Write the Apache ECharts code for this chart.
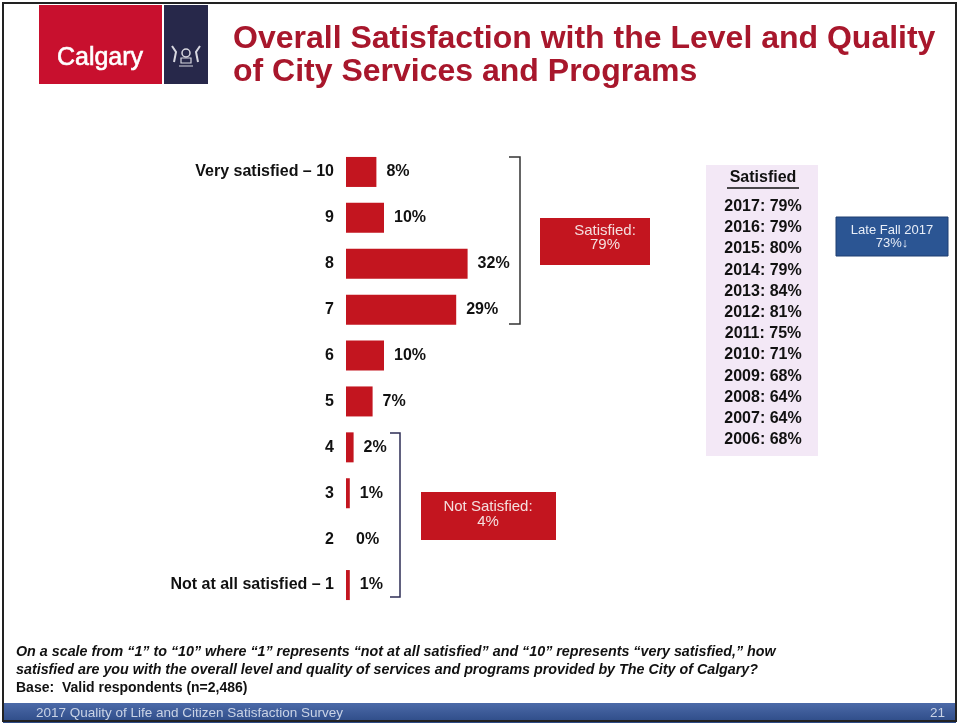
<!DOCTYPE html>
<html>
<head>
<meta charset="utf-8">
<script src="https://cdn.jsdelivr.net/npm/echarts@6/dist/echarts.min.js"></script>
<style>
  html, body { margin: 0; padding: 0; background: #fff; }
  #chart { width: 959px; height: 725px; }
</style>
</head>
<body>
<div id="chart"></div>
<script>
// Rating scale, top (10) to bottom (1)
var categories = ['Very satisfied \u2013 10', '9', '8', '7', '6', '5', '4', '3', '2', 'Not at all satisfied \u2013 1'];
var shares = [8, 10, 32, 29, 10, 7, 2, 1, 0, 1];

// Year-over-year share of satisfied residents
var historyYears = [2017, 2016, 2015, 2014, 2013, 2012, 2011, 2010, 2009, 2008, 2007, 2006];
var historyShares = [79, 79, 80, 79, 84, 81, 75, 71, 68, 64, 64, 68];

var satisfiedTotal = 79;
var notSatisfiedTotal = 4;
var lateFall = 73;

var RED = '#c3151f';
var TITLE_RED = '#a8172c';
var FONT = 'Liberation Sans, Arial, sans-serif';

var chart = echarts.init(document.getElementById('chart'));

var historyText = historyYears.map(function (y, i) {
  return y + ': ' + historyShares[i] + '%';
}).join('\n');

var CREST = '#d8d8e0';

var graphics = [
  // slide frame
  { type: 'rect', shape: { x: 3, y: 3, width: 953, height: 718 }, style: { fill: 'none', stroke: '#222', lineWidth: 2 }, z: 1 },
  // logo
  { type: 'rect', shape: { x: 39, y: 5, width: 123, height: 79 }, style: { fill: '#c8102e' } },
  { type: 'text', style: { x: 100, y: 58, text: 'Calgary', fill: '#fff', font: '25px ' + FONT, align: 'center', verticalAlign: 'middle', stroke: '#fff', lineWidth: 0.6 } },
  { type: 'rect', shape: { x: 164, y: 5, width: 44, height: 79 }, style: { fill: '#27284a' } },
  { type: 'circle', shape: { cx: 186, cy: 53, r: 4 }, style: { fill: 'none', stroke: CREST, lineWidth: 1.5 } },
  { type: 'rect', shape: { x: 181, y: 58, width: 10, height: 5 }, style: { fill: 'none', stroke: CREST, lineWidth: 1.2 } },
  { type: 'polyline', shape: { points: [[174, 62], [176, 52], [172, 46]] }, style: { stroke: CREST, lineWidth: 2, fill: 'none' } },
  { type: 'polyline', shape: { points: [[198, 62], [196, 52], [200, 46]] }, style: { stroke: CREST, lineWidth: 2, fill: 'none' } },
  { type: 'line', shape: { x1: 179, y1: 66, x2: 193, y2: 66 }, style: { stroke: CREST, lineWidth: 1 } },
  // title
  { type: 'text', left: 233, top: 23, style: { text: 'Overall Satisfaction with the Level and Quality\nof City Services and Programs', fill: TITLE_RED, font: 'bold 32px ' + FONT, lineHeight: 33 } },

  // satisfied bracket
  { type: 'polyline', shape: { points: [[509, 157], [520, 157], [520, 324], [509, 324]] }, style: { stroke: '#333', lineWidth: 1.5, fill: 'none' } },
  { type: 'rect', shape: { x: 540, y: 218, width: 110, height: 47 }, style: { fill: RED } },
  { type: 'text', style: { x: 605, y: 238, text: 'Satisfied:\n' + satisfiedTotal + '%', fill: '#f4dede', font: '15px ' + FONT, align: 'center', verticalAlign: 'middle', lineHeight: 14 } },

  // not satisfied bracket
  { type: 'polyline', shape: { points: [[390, 433], [400, 433], [400, 597], [390, 597]] }, style: { stroke: '#2e2e55', lineWidth: 1.5, fill: 'none' } },
  { type: 'rect', shape: { x: 421, y: 492, width: 135, height: 48 }, style: { fill: RED } },
  { type: 'text', style: { x: 488, y: 514, text: 'Not Satisfied:\n' + notSatisfiedTotal + '%', fill: '#f4dede', font: '15px ' + FONT, align: 'center', verticalAlign: 'middle', lineHeight: 15 } },

  // history panel
  { type: 'rect', shape: { x: 706, y: 165, width: 112, height: 291 }, style: { fill: '#f3e8f6' } },
  { type: 'text', style: { x: 763, y: 178, text: 'Satisfied', fill: '#111', font: 'bold 16px ' + FONT, align: 'center', verticalAlign: 'middle' } },
  { type: 'line', shape: { x1: 727, y1: 188, x2: 799, y2: 188 }, style: { stroke: '#111', lineWidth: 1.3 } },
  { type: 'text', style: { x: 763, y: 196, text: historyText, fill: '#111', font: 'bold 16px ' + FONT, align: 'center', verticalAlign: 'top', lineHeight: 21.2 } },

  // late fall box
  { type: 'rect', shape: { x: 836, y: 217, width: 112, height: 39 }, style: { fill: '#2b5593', stroke: '#1f3f70', lineWidth: 1 } },
  { type: 'text', style: { x: 892, y: 236.5, text: 'Late Fall 2017\n' + lateFall + '%\u2193', fill: '#e8eef8', font: '13px ' + FONT, align: 'center', verticalAlign: 'middle', lineHeight: 13 } },

  // question text
  { type: 'text', left: 16, top: 643, style: { text: 'On a scale from \u201c1\u201d to \u201c10\u201d where \u201c1\u201d represents \u201cnot at all satisfied\u201d and \u201c10\u201d represents \u201cvery satisfied,\u201d how\nsatisfied are you with the overall level and quality of services and programs provided by The City of Calgary?', fill: '#111', font: 'italic bold 14.3px ' + FONT, lineHeight: 18 } },
  { type: 'text', left: 16, top: 681, style: { text: 'Base:  Valid respondents (n=2,486)', fill: '#111', font: 'bold 14px ' + FONT } },

  // footer band
  { type: 'rect', shape: { x: 3, y: 703, width: 953, height: 20 }, style: { fill: new echarts.graphic.LinearGradient(0, 0, 0, 1, [{ offset: 0, color: '#4c6aa8' }, { offset: 1, color: '#2c4a86' }]) } },
  { type: 'text', left: 36, top: 706, style: { text: '2017 Quality of Life and Citizen Satisfaction Survey', fill: '#c9d3e6', font: '13.5px ' + FONT } },
  { type: 'text', left: 930, top: 706, style: { text: '21', fill: '#c9d3e6', font: '13.5px ' + FONT } }
];

chart.setOption({
  animation: false,
  grid: { left: 346, top: 149, width: 380, height: 459 },
  xAxis: { type: 'value', min: 0, max: 100, show: false },
  yAxis: {
    type: 'category',
    inverse: true,
    data: categories,
    axisLine: { show: false },
    axisTick: { show: false },
    axisLabel: { color: '#111', fontFamily: FONT, fontWeight: 'bold', fontSize: 16, margin: 12 }
  },
  series: [{
    type: 'bar',
    data: shares,
    barWidth: 30,
    itemStyle: { color: RED },
    label: {
      show: true,
      position: 'right',
      distance: 10,
      formatter: '{c}%',
      color: '#111',
      fontFamily: FONT,
      fontWeight: 'bold',
      fontSize: 16
    }
  }],
  graphic: graphics
});
</script>
</body>
</html>
